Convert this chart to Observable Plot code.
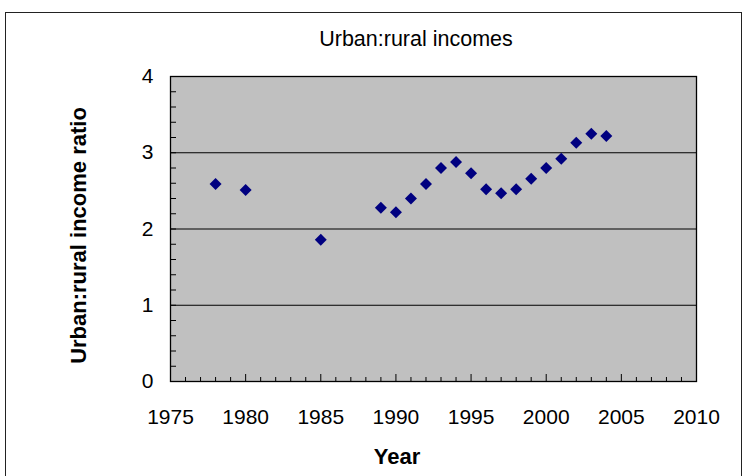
<!DOCTYPE html>
<html>
<head>
<meta charset="utf-8">
<script src="https://cdn.jsdelivr.net/npm/d3@7"></script>
<script src="https://cdn.jsdelivr.net/npm/@observablehq/plot@0.6"></script>
<style>
  html, body { margin: 0; padding: 0; background: #fff; overflow: hidden; }
  #wrap { position: relative; width: 749px; height: 476px; }
  #border { position: absolute; left: 5px; top: 12px; width: 737px; height: 520px; border: 1.5px solid #222; box-sizing: border-box; }
  #chart { position: absolute; left: 0; top: 0; }
</style>
</head>
<body>
<div id="wrap"><div id="border"></div><div id="chart"></div></div>
<script>
const title = "Urban:rural incomes";
const xLabel = "Year";
const yLabel = "Urban:rural income ratio";
const years = [1978, 1980, 1985, 1989, 1990, 1991, 1992, 1993, 1994, 1995, 1996, 1997, 1998, 1999, 2000, 2001, 2002, 2003, 2004];
const ratios = [2.59, 2.51, 1.86, 2.28, 2.22, 2.40, 2.59, 2.80, 2.88, 2.73, 2.52, 2.47, 2.52, 2.66, 2.80, 2.92, 3.13, 3.25, 3.22];
const xTickLabels = [1975, 1980, 1985, 1990, 1995, 2000, 2005, 2010];
const yTickLabels = [0, 1, 2, 3, 4];
const xMinorTicks = d3.range(1976, 2010).filter(d => d % 5 !== 0);
const xMajorTicks = [1980, 1985, 1990, 1995, 2000, 2005];
const yMinorTicks = d3.range(1, 20).map(i => i / 5);
const gridValues = [1, 2, 3];

const data = years.map((y, i) => ({year: y, ratio: ratios[i]}));
const font = "'Liberation Sans', Arial, sans-serif";
const W = 749, H = 476, ML = 170, MR = 53, MT = 76, MB = 95;
const frameW = W - ML - MR, frameH = H - MT - MB;

const chart = Plot.plot({
  width: W,
  height: H,
  marginLeft: ML,
  marginRight: MR,
  marginTop: MT,
  marginBottom: MB,
  style: {background: "transparent", fontFamily: font, color: "#000"},
  x: {domain: [1975, 2010]},
  y: {domain: [0, 4]},
  marks: [
    Plot.frame({fill: "#C0C0C0", stroke: "none"}),
    Plot.ruleY(gridValues, {stroke: "#000", strokeWidth: 1}),
    Plot.frame({stroke: "#000", strokeWidth: 1.3}),
    Plot.tickX(xMinorTicks, {x: d => d, insetTop: frameH - 4, stroke: "#000", strokeWidth: 1}),
    Plot.tickX(xMajorTicks, {x: d => d, insetTop: frameH - 7, stroke: "#000", strokeWidth: 1}),
    Plot.tickY(yMinorTicks, {y: d => d, insetRight: frameW - 6, stroke: "#000", strokeWidth: 1}),
    Plot.axisX({ticks: xTickLabels, tickFormat: d => String(d), tickSize: 0, tickPadding: 28, fontSize: 21, label: null}),
    Plot.axisY({ticks: yTickLabels, tickFormat: d => String(d), tickSize: 0, tickPadding: 17, fontSize: 21, label: null}),
    Plot.dot(data, {x: "year", y: "ratio", symbol: "diamond2", r: 5.4, fill: "#000080", stroke: "none"}),
    Plot.text([title], {frameAnchor: "top", lineAnchor: "middle", textAnchor: "middle", dy: -37.7, dx: -17.5, fontSize: 21.5, fill: "#000"}),
    Plot.text([xLabel], {frameAnchor: "bottom", lineAnchor: "middle", textAnchor: "middle", dy: 75, dx: -36.5, fontSize: 22, fontWeight: "bold", fill: "#000"}),
    Plot.text([yLabel], {frameAnchor: "left", lineAnchor: "middle", textAnchor: "middle", rotate: -90, dx: -92, dy: 6.5, fontSize: 22, fontWeight: "bold", fill: "#000"})
  ]
});
document.getElementById("chart").appendChild(chart);
</script>
</body>
</html>
